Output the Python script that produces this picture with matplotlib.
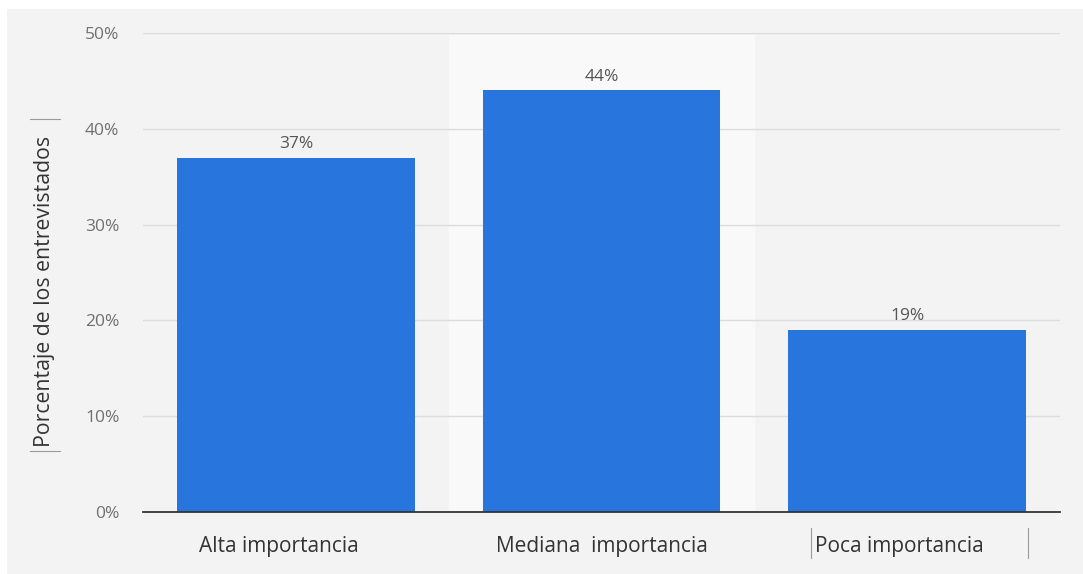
import matplotlib.pyplot as plt
from matplotlib.patches import Rectangle
from matplotlib.lines import Line2D
from matplotlib.transforms import ScaledTranslation

plt.rcParams["font.family"] = ["Open Sans", "DejaVu Sans"]

# Datos de la encuesta
categorias = ["Alta importancia", "Mediana  importancia", "Poca importancia"]
porcentajes = [37, 44, 19]
ticks_y = [0, 10, 20, 30, 40, 50]

fig = plt.figure(figsize=(10.83, 5.74), dpi=100, facecolor="white")

# Fondo gris del panel
fig.patches.append(Rectangle((7 / 1083, 0), 1 - 7 / 1083, 1 - 9 / 574,
                             transform=fig.transFigure, facecolor="#f3f3f3",
                             edgecolor="none", zorder=-1))

ax = fig.add_axes([143 / 1083, 62 / 574, 917 / 1083, 479 / 574])
ax.set_facecolor("none")

x = list(range(len(categorias)))
# Columna resaltada de la categoría del medio
ax.axvspan(0.5, 1.5, ymax=0.996, color="#f9f9f9", zorder=0)

barras = ax.bar(x, porcentajes, width=0.777, color="#2876dd", zorder=3)
for b, v in zip(barras, porcentajes):
    ax.text(b.get_x() + b.get_width() / 2, v + 0.6, f"{v}%", ha="center",
            va="bottom", fontsize=12.5, color="#555555", zorder=4)

ax.set_xlim(-0.5, 2.5)
ax.set_ylim(0, 50)
ax.set_yticks(ticks_y)
ax.set_yticklabels([f"{t}%" for t in ticks_y], color="#707070", fontsize=12.5)
ax.yaxis.grid(True, color="#dcdcdc", linewidth=1, zorder=1)
ax.tick_params(axis="y", length=0, pad=17)
ax.set_xticks(x)
ax.set_xticklabels(categorias, fontsize=15, color="#333333")
ax.tick_params(axis="x", length=0, pad=17)

# las etiquetas del eje x no van exactamente centradas
desplazamientos = [-17, 0, -8]
for lab, dx in zip(ax.get_xticklabels(), desplazamientos):
    lab.set_transform(lab.get_transform() + ScaledTranslation(dx / 100, 0, fig.dpi_scale_trans))

for s in ["top", "right", "left"]:
    ax.spines[s].set_visible(False)
ax.spines["bottom"].set_color("#333333")
ax.spines["bottom"].set_linewidth(1.3)
ax.spines["bottom"].set_zorder(5)

fig.text(45 / 1083, 1 - 291 / 574, "Porcentaje de los entrevistados",
         rotation=90, ha="center", va="center", fontsize=15.3, color="#333333")

# Marcas finas alrededor de las etiquetas
for y in (119, 451):
    fig.add_artist(Line2D([30 / 1083, 60 / 1083], [1 - y / 574, 1 - y / 574],
                          color="#999999", linewidth=0.8))
for xp in (811, 1028):
    fig.add_artist(Line2D([xp / 1083, xp / 1083], [1 - 528 / 574, 1 - 558 / 574],
                          color="#999999", linewidth=0.8))

fig.savefig("out.png", dpi=100, facecolor=fig.get_facecolor())
